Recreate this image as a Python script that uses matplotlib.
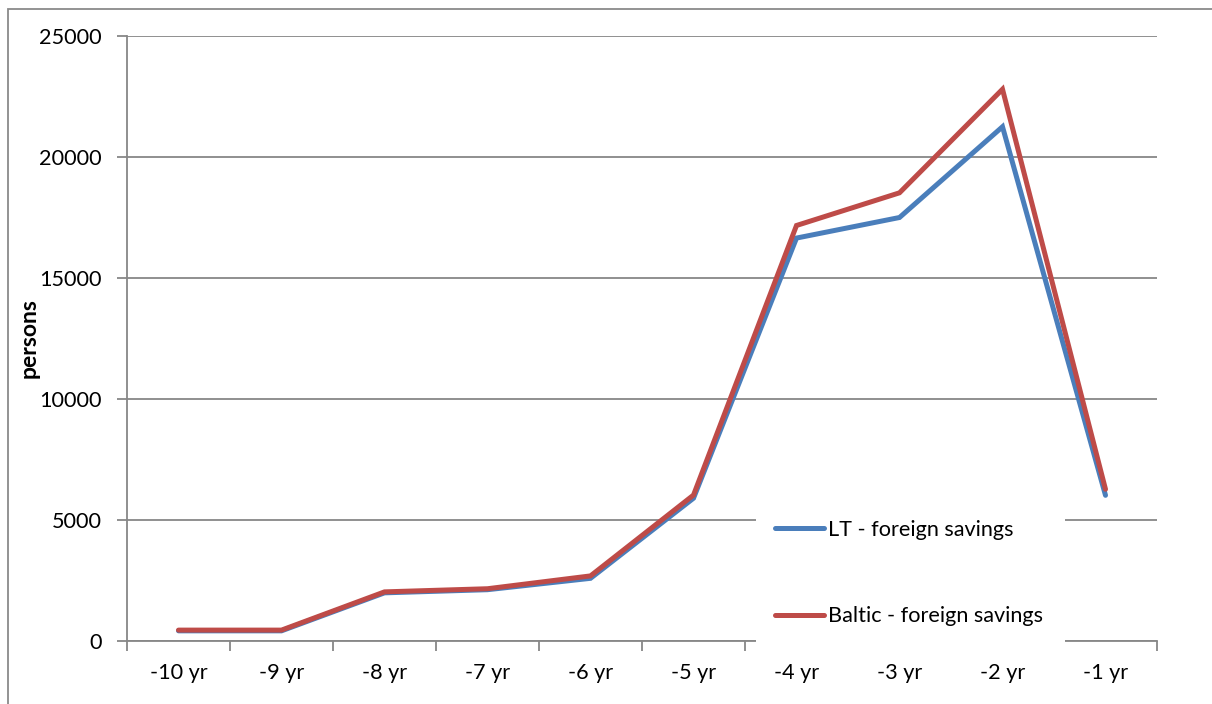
import matplotlib
matplotlib.use("Agg")
import matplotlib.pyplot as plt
from matplotlib.patches import Rectangle
from matplotlib.ticker import FixedLocator, NullFormatter

# Data
categories = ["-10 yr", "-9 yr", "-8 yr", "-7 yr", "-6 yr",
              "-5 yr", "-4 yr", "-3 yr", "-2 yr", "-1 yr"]
lt_foreign = [420, 420, 1990, 2120, 2590, 5900, 16650, 17500, 21250, 6020]
baltic_foreign = [450, 450, 2030, 2160, 2690, 6030, 17170, 18520, 22800, 6270]
series_labels = ["LT - foreign savings", "Baltic - foreign savings"]
y_ticks = [0, 5000, 10000, 15000, 20000, 25000]

W, H, DPI = 1212, 704, 100
FS = 15.6
plt.rcParams["font.family"] = ["Lato", "DejaVu Sans"]

fig = plt.figure(figsize=(W / DPI, H / DPI), dpi=DPI)
fig.patch.set_facecolor("white")

# outer chart frame
fig.patches.append(Rectangle((8 / W, -0.1), 2.0, 1 - 9 / H + 0.1,
                             transform=fig.transFigure, fill=False,
                             edgecolor="#8a8a8a", linewidth=1.3))

ax = fig.add_axes([127 / W, 1 - 641 / H, (1157 - 127) / W, (641 - 36) / H])

grid_c = "#878787"
x = list(range(len(categories)))
blue = "#4a7ebb"
red = "#be4b48"
ax.plot(x, lt_foreign, color=blue, lw=3.6, solid_capstyle="round",
        solid_joinstyle="miter", label=series_labels[0], zorder=3)
ax.plot(x, baltic_foreign, color=red, lw=3.6, solid_capstyle="round",
        solid_joinstyle="miter", label=series_labels[1], zorder=3)

ax.set_xlim(-0.5, len(categories) - 0.5)
ax.set_ylim(0, 25000)

# y axis
ax.set_yticks(y_ticks)
ax.set_yticklabels([str(v) for v in y_ticks])
ax.yaxis.grid(True, color=grid_c, linewidth=1.3)
ax.set_axisbelow(True)
ax.tick_params(axis="y", direction="out", length=7, width=1.3,
               color=grid_c, pad=11, labelsize=FS, labelcolor="black")

# x axis: tick marks at category boundaries, labels at centres
ax.xaxis.set_major_locator(FixedLocator([i - 0.5 for i in range(len(categories) + 1)]))
ax.xaxis.set_major_formatter(NullFormatter())
ax.xaxis.set_minor_locator(FixedLocator(x))
ax.set_xticklabels(categories, minor=True)
ax.tick_params(axis="x", which="major", direction="out", length=7,
               width=1.3, color=grid_c)
ax.tick_params(axis="x", which="minor", length=0, pad=15.5, labelsize=FS,
               labelcolor="black")

for side in ["top", "right"]:
    ax.spines[side].set_visible(False)
for side in ["left", "bottom"]:
    ax.spines[side].set_color(grid_c)
    ax.spines[side].set_linewidth(1.3)

fig.text(29 / W, 1 - 338 / H, "persons", rotation=90, ha="center",
         va="center", fontsize=16.5, fontweight="bold")

# legend area with white backing
ax.add_patch(Rectangle((756 / W, 1 - 655 / H), (1065 - 756) / W, (655 - 505) / H,
                       transform=fig.transFigure, facecolor="white",
                       edgecolor="none", clip_on=False, zorder=4))
leg = ax.legend(loc="upper left", bbox_to_anchor=(775 / W, 1 - 520 / H),
                bbox_transform=fig.transFigure, frameon=False, fontsize=FS,
                handlelength=2.25, handletextpad=0.2, labelspacing=3.05,
                borderpad=0, borderaxespad=0)
leg.set_zorder(5)

fig.savefig("out.png", dpi=DPI, facecolor="white")
